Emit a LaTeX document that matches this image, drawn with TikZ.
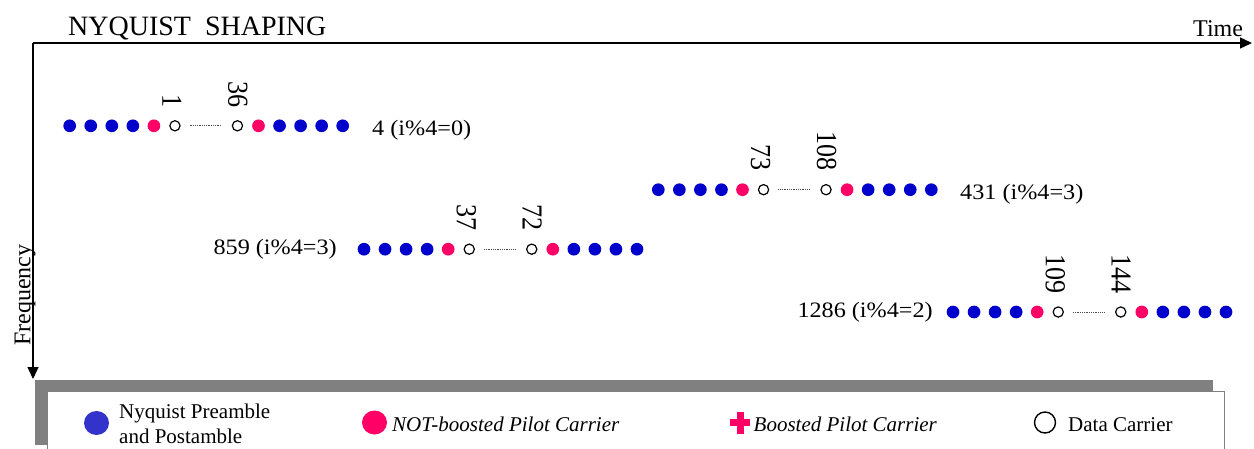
\documentclass[tikz,border=0pt]{standalone}
\usepackage{fontspec}
\setmainfont{Liberation Serif}
\newfontfamily\labelfont[FakeStretch=1.1]{Liberation Serif}
\newfontfamily\numfont[FakeStretch=0.9]{Liberation Serif}
\usetikzlibrary{arrows.meta,shapes.geometric}
\definecolor{nyqblue}{HTML}{0000CC}
\definecolor{legblue}{HTML}{3333CC}
\definecolor{pilotred}{HTML}{FF0066}
\definecolor{shadowgray}{HTML}{808080}
\tikzset{
  bluedot/.style={circle, fill=nyqblue, inner sep=0pt, minimum size=12.7pt},
  pilotdot/.style={circle, fill=pilotred, inner sep=0pt, minimum size=12.7pt},
  datadot/.style={circle, draw=black, fill=white, line width=1.2pt, inner sep=0pt, minimum size=10.2pt},
  gapline/.style={draw=black!70, line width=0.9pt, dash pattern=on 0.9pt off 0.9pt, shorten <=9pt, shorten >=11pt},
  numlabel/.style={rotate=-90, inner sep=0pt, anchor=east, font=\numfont\fontsize{29}{32}\selectfont},
  rowlabel/.style={inner sep=0pt, font=\labelfont\fontsize{22}{26}\selectfont},
  axis/.style={line width=1.3pt, -{Triangle[length=12pt,width=11pt]}},
  legtext/.style={inner sep=0pt, anchor=base west, font=\fontsize{21}{25}\selectfont},
}
\newcommand\carrierrow[5]{%
  \foreach \i in {0,...,3}{\node[bluedot] (#1b\i) at ({#2+21.05*\i},#3) {};}
  \node[pilotdot] (#1p1) at ({#2+84.2},#3) {};
  \node[datadot] (#1d1) at ({#2+105.25},#3) {};
  \node[datadot] (#1d2) at ({#2+167.75},#3) {};
  \node[pilotdot] (#1p2) at ({#2+188.8},#3) {};
  \foreach \i in {4,...,7}{\node[bluedot] (#1b\i) at ({#2+209.85+21.05*(\i-4)},#3) {};}
  \draw[gapline] (#1d1) -- (#1d2);
  \node[numlabel] (#1n1) at ([xshift=-3pt,yshift=18.5pt]#1d1.center) {#4};
  \node[numlabel] (#1n2) at ([xshift=0.5pt,yshift=18.5pt]#1d2.center) {#5};
}
\begin{document}
\begin{tikzpicture}[x=1pt,y=-1pt]
\useasboundingbox (0,0) rectangle (1254,448);
\clip (0,0) rectangle (1254,448);
% title and axes
\node[inner sep=0pt, anchor=base west, font=\fontsize{28}{32}\selectfont] (title) at (68,35) {NYQUIST\ \ SHAPING};
\coordinate (origin) at (33,43);
\coordinate (timeend) at (1252,43);
\coordinate (freqend) at (33,379);
\draw[axis] (origin) -- (timeend);
\draw[axis] (origin) -- (freqend);
\node[inner sep=0pt, anchor=base west, font=\fontsize{24}{28}\selectfont] (timelabel) at (1193,36.7) {Time};
\node[inner sep=0pt, anchor=base, rotate=90, font=\fontsize{24}{28}\selectfont] (freqlabel) at (30.5,295) {Frequency};
% carrier rows
\carrierrow{ra}{69.7}{125.8}{1}{36}
\carrierrow{rb}{364}{249.2}{37}{72}
\carrierrow{rc}{658.3}{189.7}{73}{108}
\carrierrow{rd}{953}{312}{109}{144}
\node[rowlabel, anchor=base west] (la) at (372,135.2) {4 (i\%4=0)};
\node[rowlabel, anchor=base east] (lb) at (337,254.5) {859 (i\%4=3)};
\node[rowlabel, anchor=base west] (lc) at (960,199.5) {431 (i\%4=3)};
\node[rowlabel, anchor=base east] (ld) at (933,317.5) {1286 (i\%4=2)};
% legend
\fill[shadowgray] (35,380) rectangle (1213,445);
\draw[shadowgray, fill=white, line width=0.8pt] (47,391.5) rectangle (1224.5,470);
\node[ellipse, fill=legblue, inner sep=0pt, minimum width=25pt, minimum height=24pt] (legblue) at (96.5,423) {};
\node[legtext] (legbluetext1) at (119,418) {Nyquist Preamble};
\node[legtext] (legbluetext2) at (119,443) {and Postamble};
\node[ellipse, fill=pilotred, inner sep=0pt, minimum width=25pt, minimum height=24pt] (legred) at (374.5,422.5) {};
\node[legtext, font=\itshape\fontsize{21}{25}\selectfont] (legredtext) at (392,431) {NOT-boosted Pilot Carrier};
\coordinate (legcross) at (740,422.5);
\fill[pilotred] ([xshift=-3.5pt,yshift=11pt]legcross) rectangle ([xshift=3.5pt,yshift=-11pt]legcross);
\fill[pilotred] ([xshift=-10pt,yshift=3.5pt]legcross) rectangle ([xshift=10pt,yshift=-3.5pt]legcross);
\node[legtext, font=\itshape\fontsize{21}{25}\selectfont] (legcrosstext) at (753.5,431) {Boosted Pilot Carrier};
\node[circle, draw=black, line width=1.4pt, inner sep=0pt, minimum size=21pt] (legdata) at (1045,422.5) {};
\node[legtext] (legdatatext) at (1068,431) {Data Carrier};
\end{tikzpicture}
\end{document}
